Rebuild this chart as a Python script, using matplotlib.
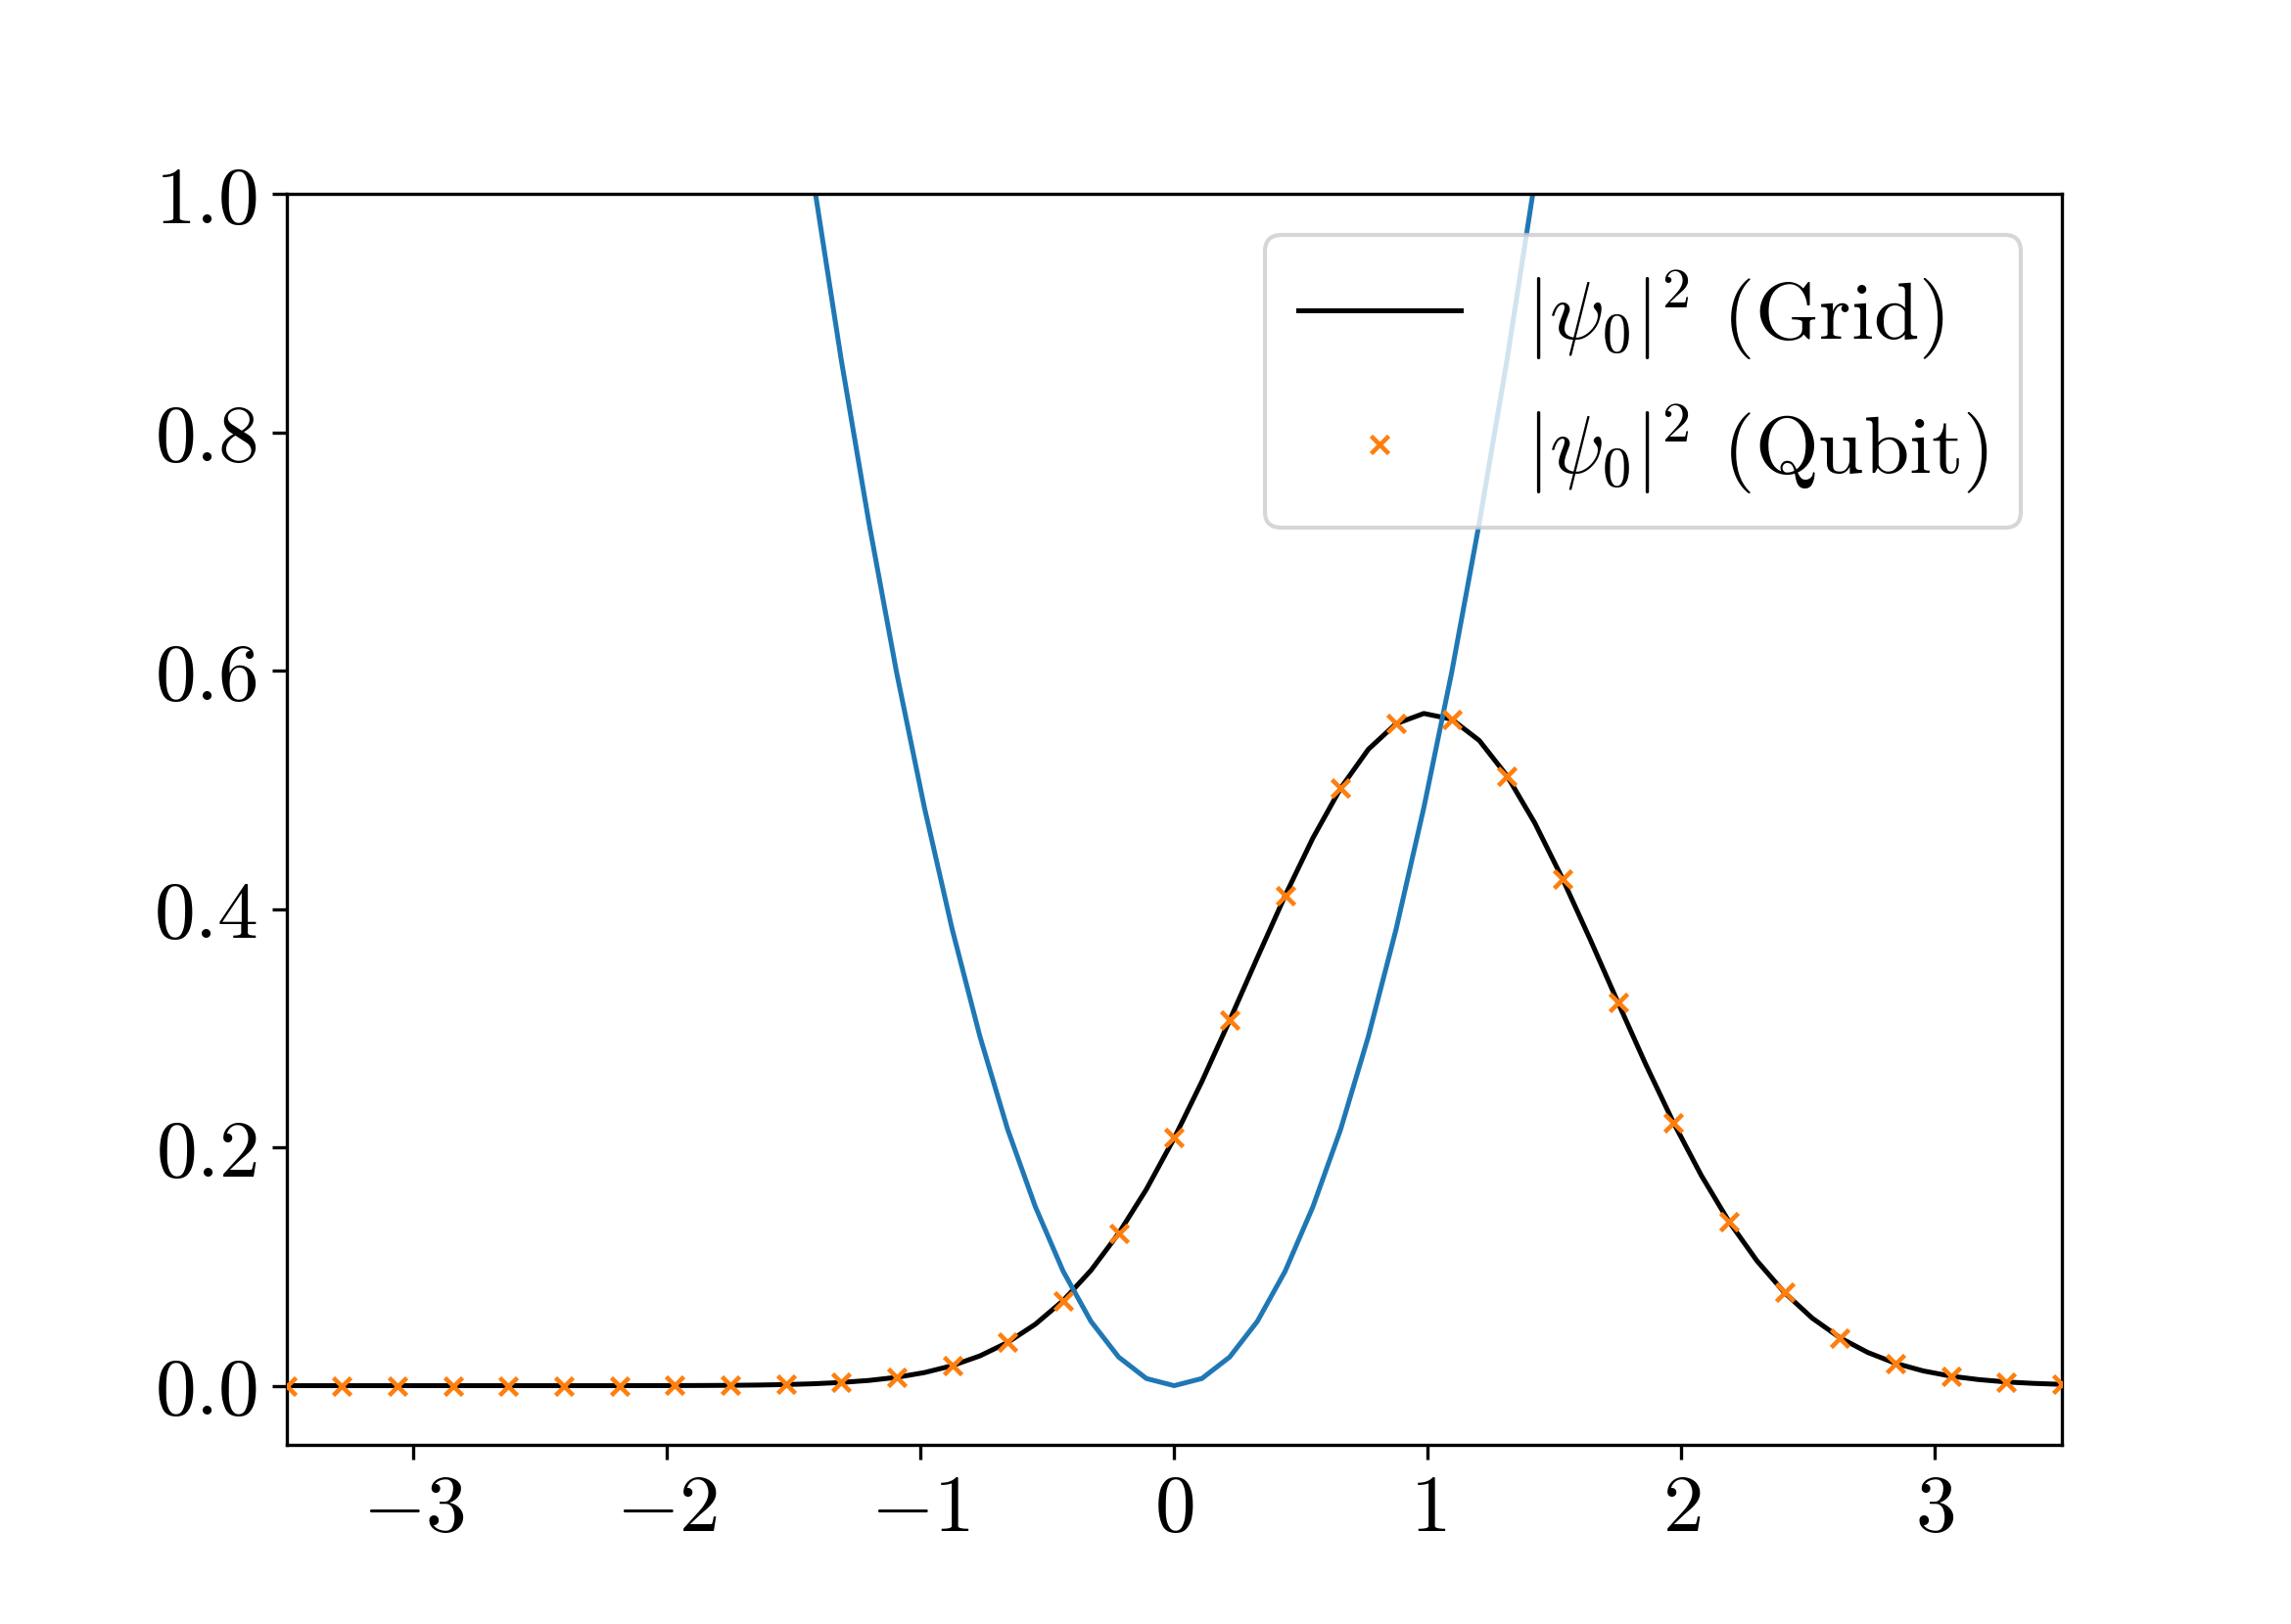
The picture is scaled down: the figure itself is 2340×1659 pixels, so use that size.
import numpy as np
import matplotlib
matplotlib.use("Agg")
import matplotlib.pyplot as plt

plt.rcParams['font.family'] = 'serif'
plt.rcParams['font.serif'] = ['cmr10']
plt.rcParams['mathtext.fontset'] = 'cm'
plt.rcParams['axes.formatter.use_mathtext'] = True
plt.rcParams['font.size'] = 20

# grid positions
x_grid = [-3.5, -3.390625, -3.28125, -3.171875, -3.0625, -2.953125, -2.84375, -2.734375,
          -2.625, -2.515625, -2.40625, -2.296875, -2.1875, -2.078125, -1.96875, -1.859375,
          -1.75, -1.640625, -1.53125, -1.421875, -1.3125, -1.203125, -1.09375, -0.984375,
          -0.875, -0.765625, -0.65625, -0.546875, -0.4375, -0.328125, -0.21875, -0.109375,
          0.0,
          0.109375, 0.21875, 0.328125, 0.4375, 0.546875, 0.65625, 0.765625, 0.875,
          0.984375, 1.09375, 1.203125, 1.3125, 1.421875, 1.53125, 1.640625, 1.75,
          1.859375, 1.96875, 2.078125, 2.1875, 2.296875, 2.40625, 2.515625, 2.625,
          2.734375, 2.84375, 2.953125, 3.0625, 3.171875, 3.28125, 3.390625, 3.5]

# potential (blue)
potential = [6.125, 5.748, 5.383, 5.030, 4.689, 4.360, 4.043, 3.738,
             3.445, 3.164, 2.895, 2.638, 2.393, 2.159, 1.938, 1.729,
             1.531, 1.346, 1.172, 1.011, 0.861, 0.724, 0.598, 0.485,
             0.383, 0.293, 0.215, 0.150, 0.096, 0.054, 0.024, 0.006,
             0.0,
             0.006, 0.024, 0.054, 0.096, 0.150, 0.215, 0.293, 0.383,
             0.485, 0.598, 0.724, 0.861, 1.011, 1.172, 1.346, 1.531,
             1.729, 1.938, 2.159, 2.393, 2.638, 2.895, 3.164, 3.445,
             3.738, 4.043, 4.360, 4.689, 5.030, 5.383, 5.748, 6.125]

# |psi_0|^2 on the grid
psi_grid = [0.0, 0.0, 0.0, 0.0, 0.0, 0.0, 0.0, 0.0,
            0.0, 0.0, 0.0, 0.0, 0.0, 0.00004, 0.00008, 0.00016,
            0.00029, 0.00053, 0.00093, 0.0016, 0.0027, 0.0044, 0.0070, 0.0110,
            0.0168, 0.0250, 0.0363, 0.0516, 0.0714, 0.0967, 0.1278, 0.1648,
            0.2076,
            0.2552, 0.3065, 0.3592, 0.4112, 0.4595, 0.5013, 0.5340, 0.5555,
            0.5641, 0.5593, 0.5414, 0.5117, 0.4722, 0.4254, 0.3743, 0.3215,
            0.2696, 0.2207, 0.1765, 0.1377, 0.1050, 0.0781, 0.0567, 0.0402,
            0.0279, 0.0188, 0.0124, 0.0080, 0.0051, 0.0031, 0.0019, 0.0011]

# qubit result
x_qubit = [-3.5, -3.28125, -3.0625, -2.84375, -2.625, -2.40625, -2.1875, -1.96875,
           -1.75, -1.53125, -1.3125, -1.09375, -0.875, -0.65625, -0.4375, -0.21875,
           0.0,
           0.21875, 0.4375, 0.65625, 0.875, 1.09375, 1.3125, 1.53125, 1.75,
           1.96875, 2.1875, 2.40625, 2.625, 2.84375, 3.0625, 3.28125, 3.5]
psi_qubit = [0.0, 0.0, 0.0, 0.0, 0.0, 0.0, 0.0, 0.0001,
             0.0003, 0.0009, 0.0027, 0.0070, 0.0168, 0.0363, 0.0714, 0.1278,
             0.2086,
             0.3065, 0.4112, 0.5013, 0.5555, 0.5593, 0.5117, 0.4254, 0.3215,
             0.2207, 0.1377, 0.0781, 0.0402, 0.0188, 0.0080, 0.0031, 0.0011]

fig, ax = plt.subplots(figsize=(7.8, 5.5333))
ax.plot(x_grid, psi_grid, color='black', lw=1.2, label=r'$|\psi_0|^2$ (Grid)', zorder=2)
ax.plot(x_grid, potential, color='C0', lw=1.2, zorder=2.5)
ax.plot(x_qubit, psi_qubit, 'x', color='C1', ms=4.5, mew=1.1, label=r'$|\psi_0|^2$ (Qubit)', zorder=3)

ax.set_xlim(-3.5, 3.5)
ax.set_ylim(-0.05, 1.0)
ax.set_yticks([0.0, 0.2, 0.4, 0.6, 0.8, 1.0])
ax.set_xticks([-3, -2, -1, 0, 1, 2, 3])
ax.legend(loc='upper right')

plt.savefig('out.png', dpi=300)
